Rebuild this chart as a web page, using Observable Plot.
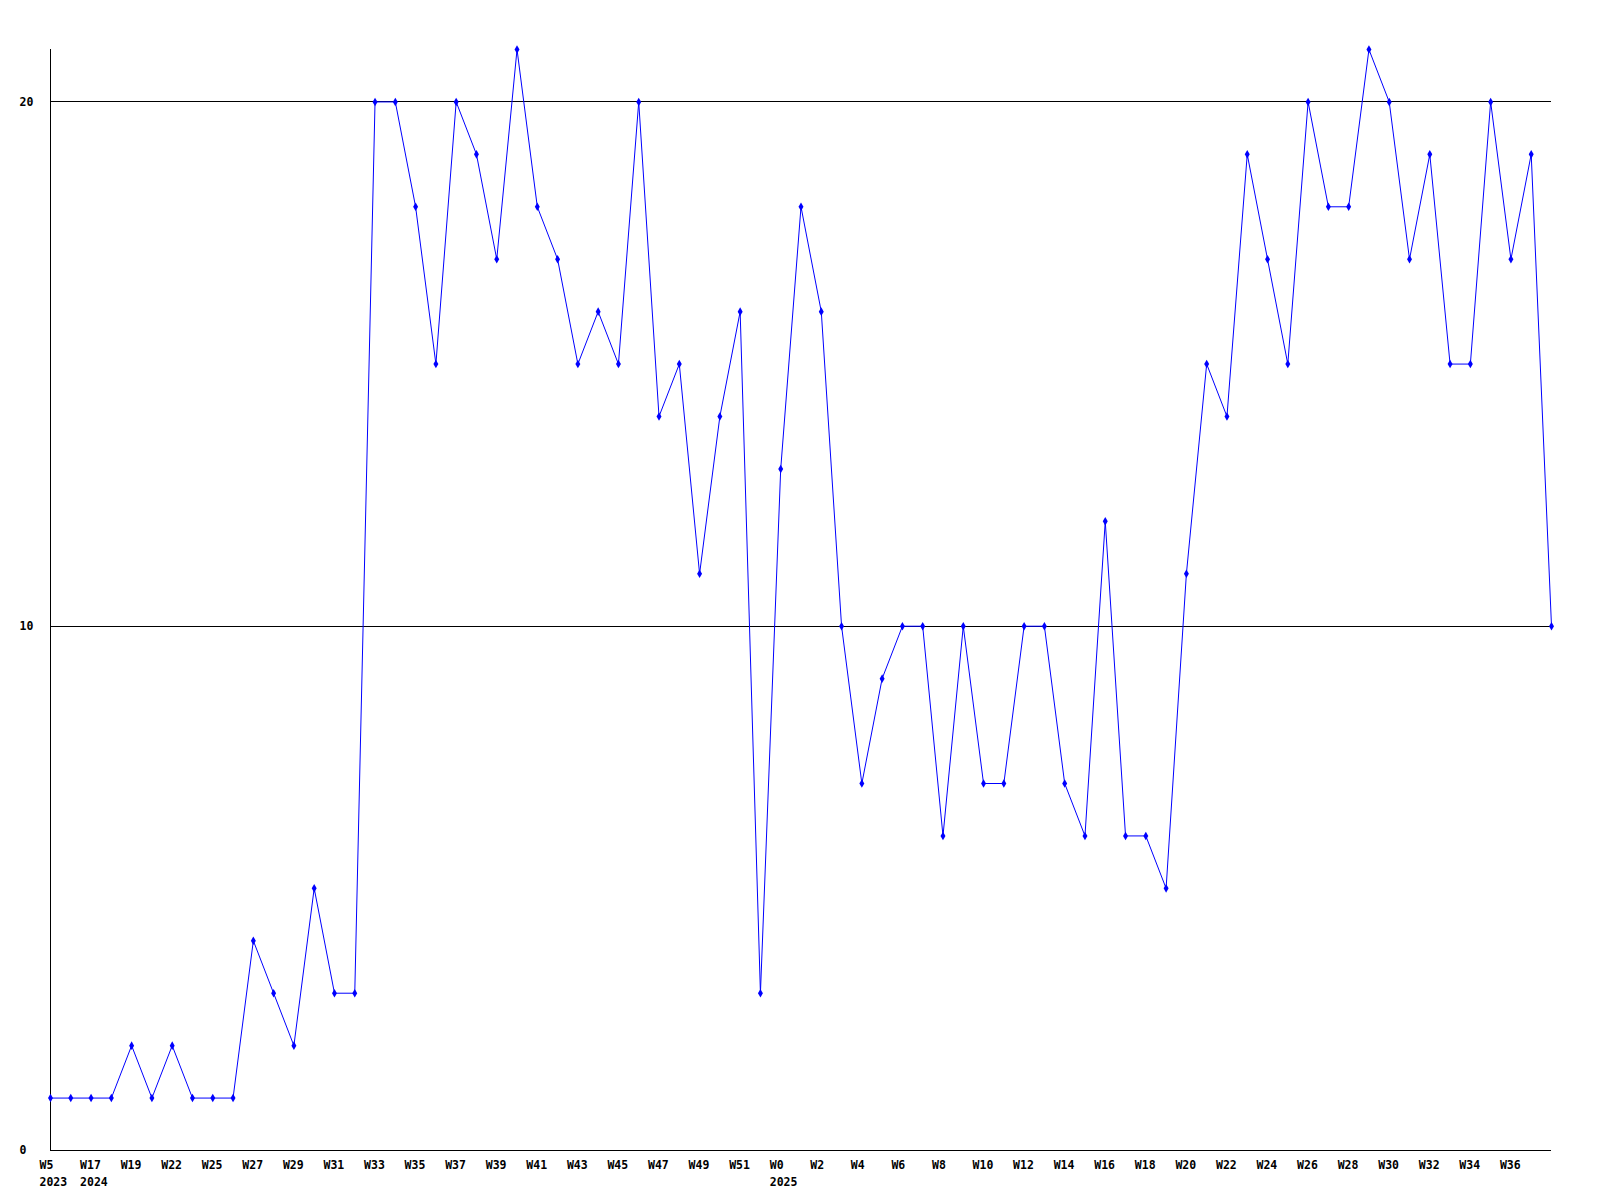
<!DOCTYPE html>
<html><head><meta charset="utf-8">
<script src="https://cdn.jsdelivr.net/npm/d3@7"></script>
<script src="https://cdn.jsdelivr.net/npm/@observablehq/plot@0.6"></script>
<style>html,body{margin:0;padding:0;background:#fff}svg{display:block}</style>
</head><body><div id="chart"></div>
<script>
// Week labels (odd-index labels are not shown in the reference and are estimates)
const weeks = ["W5","W6","W17","W18","W19","W21","W22","W24","W25","W26",
  "W27","W28","W29","W30","W31","W32","W33","W34","W35","W36",
  "W37","W38","W39","W40","W41","W42","W43","W44","W45","W46",
  "W47","W48","W49","W50","W51","W52","W0","W1","W2","W3",
  "W4","W5","W6","W7","W8","W9","W10","W11","W12","W13",
  "W14","W15","W16","W17","W18","W19","W20","W21","W22","W23",
  "W24","W25","W26","W27","W28","W29","W30","W31","W32","W33",
  "W34","W35","W36","W37","W38"];
const years = [2023,2023,
  2024,2024,2024,2024,2024,2024,2024,2024,2024,2024,2024,2024,2024,2024,2024,2024,
  2024,2024,2024,2024,2024,2024,2024,2024,2024,2024,2024,2024,2024,2024,2024,2024,2024,2024,
  2025,2025,2025,2025,2025,2025,2025,2025,2025,2025,2025,2025,2025,2025,2025,2025,2025,2025,
  2025,2025,2025,2025,2025,2025,2025,2025,2025,2025,2025,2025,2025,2025,2025,2025,2025,2025,
  2025,2025,2025];
const values = [1,1,1,1,2,1,2,1,1,1,
  4,3,2,5,3,3,20,20,18,15,
  20,19,17,21,18,17,15,16,15,20,
  14,15,11,14,16,3,13,18,16,10,
  7,9,10,10,6,10,7,7,10,10,
  7,6,12,6,6,5,11,15,14,19,
  17,15,20,18,18,21,20,17,19,15,
  15,20,17,19,10];
const yTicks = [0,10,20];

const data = values.map((v, i) => ({i, v}));
const xTicks = d3.range(0, weeks.length - 1, 2);
const fmtX = i => (i === 0 || years[i] !== years[i-1]) ? weeks[i] + "\n" + years[i] : weeks[i];

const chart = Plot.plot({
  width: 1600, height: 1200,
  marginLeft: 50, marginRight: 49, marginTop: 49, marginBottom: 50,
  style: {fontFamily: "'DejaVu Sans Mono', monospace", fontSize: "11.5px", fontWeight: "bold", color: "#000", background: "#fff"},
  x: {type: "point", domain: d3.range(weeks.length), padding: 0, round: false},
  y: {domain: [0, 21]},
  marks: [
    Plot.ruleY(yTicks.filter(t => t > 0), {stroke: "#000", strokeWidth: 1, shapeRendering: "crispEdges"}),
    Plot.ruleX([0], {stroke: "#000", strokeWidth: 1, shapeRendering: "crispEdges"}),
    Plot.ruleY([0], {stroke: "#000", strokeWidth: 1, shapeRendering: "crispEdges"}),
    Plot.line(data, {x: "i", y: "v", stroke: "#0000ff", strokeWidth: 1}),
    Plot.dot(data, {x: "i", y: "v", symbol: "diamond", r: 2.6, fill: "#0000ff", stroke: "none"}),
    Plot.axisY(yTicks, {tickSize: 0, tickPadding: 31, textAnchor: "start", label: null, fill: "#000", tickFormat: d => String(d)}),
    Plot.axisX(xTicks, {tickSize: 0, tickPadding: 7, textAnchor: "start", dx: -11, lineHeight: 1.45, tickFormat: fmtX, label: null, fill: "#000"})
  ]
});
document.getElementById("chart").append(chart);
</script>
</body></html>
